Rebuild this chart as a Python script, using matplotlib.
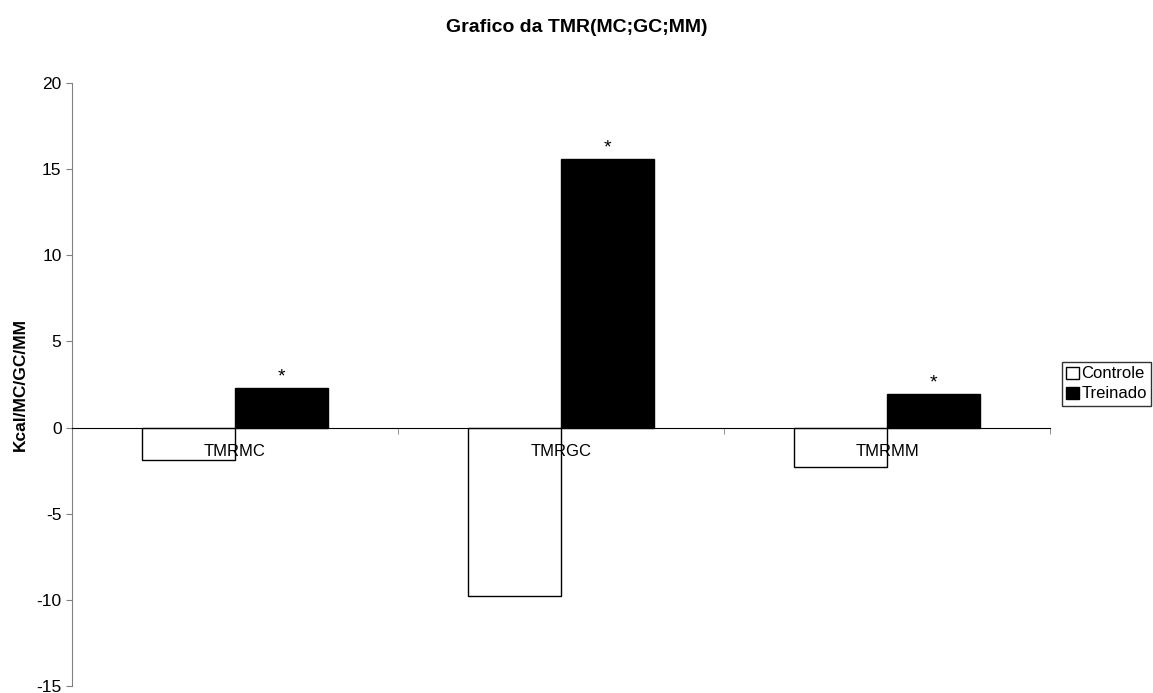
import numpy as np
import matplotlib
matplotlib.use('Agg')
import matplotlib.pyplot as plt
from matplotlib.ticker import FixedLocator

plt.rcParams['font.family'] = ['Liberation Sans', 'DejaVu Sans']
plt.rcParams['axes.unicode_minus'] = False

# dados
categorias = ['TMRMC', 'TMRGC', 'TMRMM']
controle = [-1.9, -9.8, -2.3]
treinado = [2.3, 15.6, 1.95]
series = ['Controle', 'Treinado']

fig = plt.figure(figsize=(11.53, 6.93), dpi=100)
ax = fig.add_axes([0.0624, 0.0101, 0.8483, 0.8701])

x = np.arange(len(categorias))
larg = 0.285
ax.bar(x - larg / 2, controle, larg, color='white', edgecolor='black', lw=1, label=series[0])
ax.bar(x + larg / 2, treinado, larg, color='black', edgecolor='black', lw=1, label=series[1])

# asteriscos sobre as barras do grupo treinado
for xi, v in zip(x, treinado):
    ax.annotate('*', (xi + larg / 2, v), xytext=(0, 2), textcoords='offset points',
                ha='center', va='bottom', fontsize=14)

ax.set_xlim(-0.5, len(categorias) - 0.5)
ax.set_ylim(-15, 20)
ax.set_yticks(np.arange(-15, 21, 5))

ax.spines['top'].set_visible(False)
ax.spines['right'].set_visible(False)
ax.spines['left'].set_color('#808080')
ax.spines['bottom'].set_position(('data', 0))
ax.spines['bottom'].set_color('black')

ax.set_xticks(x)
ax.set_xticklabels(categorias)
ax.tick_params(axis='x', which='major', length=0, pad=12, labelsize=12)
ax.xaxis.set_minor_locator(FixedLocator([0.5, 1.5, 2.5]))
ax.tick_params(axis='x', which='minor', length=4, direction='out', color='#808080')
ax.tick_params(axis='y', length=4, direction='out', color='#808080', labelsize=12.5)

ax.set_ylabel('Kcal/MC/GC/MM', fontweight='bold', fontsize=12.5, labelpad=6)
fig.text(0.5, 1 - 27 / 693, 'Grafico da TMR(MC;GC;MM)', ha='center', va='center',
         fontweight='bold', fontsize=14)

leg = ax.legend(loc='center left', bbox_to_anchor=(1062 / 1153, 1 - 384 / 693), bbox_transform=fig.transFigure,
                frameon=True, fancybox=False, fontsize=12, handlelength=0.75, handleheight=0.75,
                handletextpad=0.15, borderpad=0.25, labelspacing=0.3, borderaxespad=0)
leg.get_frame().set_edgecolor('black')
leg.get_frame().set_linewidth(1)

fig.savefig('out.png', dpi=100)
